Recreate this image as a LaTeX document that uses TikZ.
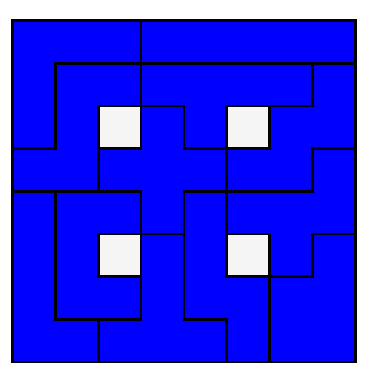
\documentclass[tikz,border=0pt]{standalone}
\definecolor{pureblue}{RGB}{0,0,255}
\begin{document}
\begin{tikzpicture}[x=42.85pt,y=-42.7pt,
  edge/.style={draw=black,line width=2.7pt,line join=miter},
  hole/.style={fill=gray!8}]
\useasboundingbox[fill=white] (-0.2917,-0.4801) rectangle (8.2497,8.1616);
\fill[pureblue] (0,0) rectangle (8,8);
\fill[hole] (2,2) rectangle (3,3);
\fill[hole] (5,2) rectangle (6,3);
\fill[hole] (2,5) rectangle (3,6);
\fill[hole] (5,5) rectangle (6,6);
% V
\draw[edge] (0,0) -- (3,0) -- (3,1) -- (1,1) -- (1,3) -- (0,3) -- cycle;
% Z
\draw[edge] (1,1) -- (3,1) -- (3,2) -- (2,2) -- (2,4) -- (0,4) -- (0,3) -- (1,3) -- cycle;
% I
\draw[edge] (3,0) -- (8,0) -- (8,1) -- (3,1) -- cycle;
% Y
\draw[edge] (3,1) -- (7,1) -- (7,2) -- (5,2) -- (5,3) -- (4,3) -- (4,2) -- (3,2) -- cycle;
% W
\draw[edge] (7,1) -- (8,1) -- (8,3) -- (7,3) -- (7,4) -- (5,4) -- (5,3) -- (6,3) -- (6,2) -- (7,2) -- cycle;
% X
\draw[edge] (3,2) -- (4,2) -- (4,3) -- (5,3) -- (5,4) -- (4,4) -- (4,5) -- (3,5) -- (3,4) -- (2,4) -- (2,3) -- (3,3) -- cycle;
% U
\draw[edge] (1,4) -- (3,4) -- (3,5) -- (2,5) -- (2,6) -- (3,6) -- (3,7) -- (1,7) -- cycle;
% L
\draw[edge] (0,4) -- (1,4) -- (1,7) -- (2,7) -- (2,8) -- (0,8) -- cycle;
% T
\draw[edge] (3,5) -- (4,5) -- (4,7) -- (5,7) -- (5,8) -- (2,8) -- (2,7) -- (3,7) -- cycle;
% N
\draw[edge] (4,4) -- (5,4) -- (5,6) -- (6,6) -- (6,8) -- (5,8) -- (5,7) -- (4,7) -- cycle;
% F
\draw[edge] (7,3) -- (8,3) -- (8,5) -- (7,5) -- (7,6) -- (6,6) -- (6,5) -- (5,5) -- (5,4) -- (7,4) -- cycle;
% P
\draw[edge] (7,5) -- (8,5) -- (8,8) -- (6,8) -- (6,6) -- (7,6) -- cycle;
% holes
\draw[edge] (2,2) rectangle (3,3);
\draw[edge] (5,2) rectangle (6,3);
\draw[edge] (2,5) rectangle (3,6);
\draw[edge] (5,5) rectangle (6,6);
\end{tikzpicture}
\end{document}
